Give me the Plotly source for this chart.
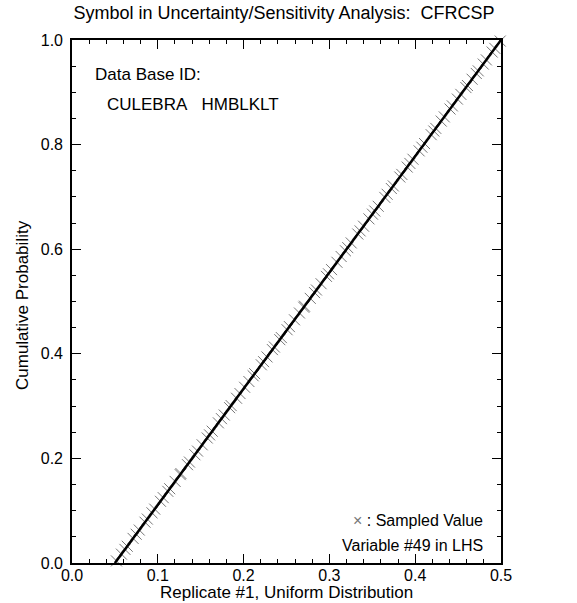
import plotly.graph_objects as go

# Uniform distribution range (CDF line endpoints)
cdf_x = [0.05, 0.5]
cdf_y = [0.0, 1.0]

# Sampled values (LHS, replicate #1) and their cumulative probabilities
sample_x = [0.0518, 0.0576, 0.0617, 0.0644, 0.0712, 0.0748, 0.0784, 0.0851, 0.0878, 0.0932,
            0.0964, 0.1031, 0.1063, 0.1117, 0.1139, 0.1202, 0.1261, 0.1270, 0.1346, 0.1369,
            0.1432, 0.1463, 0.1517, 0.1576, 0.1603, 0.1634, 0.1706, 0.1742, 0.1774, 0.1837,
            0.1855, 0.1918, 0.1958, 0.2012, 0.2062, 0.2111, 0.2129, 0.2206, 0.2233, 0.2273,
            0.2336, 0.2359, 0.2422, 0.2440, 0.2507, 0.2534, 0.2593, 0.2651, 0.2701, 0.2710,
            0.2777, 0.2827, 0.2849, 0.2903, 0.2966, 0.2989, 0.3025, 0.3088, 0.3137, 0.3187,
            0.3214, 0.3254, 0.3331, 0.3358, 0.3398, 0.3461, 0.3502, 0.3529, 0.3569, 0.3646,
            0.3673, 0.3722, 0.3745, 0.3821, 0.3844, 0.3907, 0.3938, 0.3974, 0.4046, 0.4078,
            0.4109, 0.4186, 0.4217, 0.4240, 0.4303, 0.4339, 0.4406, 0.4433, 0.4492, 0.4532,
            0.4591, 0.4609, 0.4663, 0.4712, 0.4735, 0.4793, 0.4829, 0.4897, 0.4928, 0.4991]
sample_p = [0.004, 0.017, 0.026, 0.032, 0.047, 0.055, 0.063, 0.078, 0.084, 0.096,
            0.103, 0.118, 0.125, 0.137, 0.142, 0.156, 0.169, 0.171, 0.188, 0.193,
            0.207, 0.214, 0.226, 0.239, 0.245, 0.252, 0.268, 0.276, 0.283, 0.297,
            0.301, 0.315, 0.324, 0.336, 0.347, 0.358, 0.362, 0.379, 0.385, 0.394,
            0.408, 0.413, 0.427, 0.431, 0.446, 0.452, 0.465, 0.478, 0.489, 0.491,
            0.506, 0.517, 0.522, 0.534, 0.548, 0.553, 0.561, 0.575, 0.586, 0.597,
            0.603, 0.612, 0.629, 0.635, 0.644, 0.658, 0.667, 0.673, 0.682, 0.699,
            0.705, 0.716, 0.721, 0.738, 0.743, 0.757, 0.764, 0.772, 0.788, 0.795,
            0.802, 0.819, 0.826, 0.831, 0.845, 0.853, 0.868, 0.874, 0.887, 0.896,
            0.909, 0.913, 0.925, 0.936, 0.941, 0.954, 0.962, 0.977, 0.984, 0.998]

x_ticks = [0.0, 0.1, 0.2, 0.3, 0.4, 0.5]
x_tick_labels = ["0.0", "0.1", "0.2", "0.3", "0.4", "0.5"]
y_ticks = [0.0, 0.2, 0.4, 0.6, 0.8, 1.0]
y_tick_labels = ["0.0", "0.2", "0.4", "0.6", "0.8", "1.0"]

FONT = "Liberation Sans, Arial, Helvetica, sans-serif"
FS = 17
W, H = 577, 603
L, R, T, B = 72, 76, 40, 40
PW, PH = W - L - R, H - T - B

fig = go.Figure()
fig.add_trace(go.Scatter(
    x=sample_x, y=sample_p, mode="markers",
    marker=dict(symbol="x-thin", size=11, line=dict(width=0.9, color="#666666"), color="#666666"),
    showlegend=False, hoverinfo="skip", cliponaxis=False))
fig.add_trace(go.Scatter(
    x=cdf_x, y=cdf_y, mode="lines",
    line=dict(color="black", width=2.5), showlegend=False, hoverinfo="skip"))

axis_common = dict(
    showgrid=False, zeroline=False, showline=True, linecolor="black", linewidth=1.6,
    mirror="allticks", ticks="inside", ticklen=9, tickwidth=1.4, tickcolor="black",
    tickfont=dict(family=FONT, size=16, color="black"), automargin=False,
)

fig.update_xaxes(
    range=[0, 0.5], tickvals=x_ticks, ticktext=x_tick_labels, ticklabelstandoff=-3,
    minor=dict(dtick=0.02, tick0=0, ticks="inside", ticklen=4, tickwidth=1, tickcolor="black"),
    **axis_common)
fig.update_yaxes(
    range=[0, 1], tickvals=y_ticks, ticktext=y_tick_labels, ticklabelstandoff=4,
    minor=dict(dtick=0.05, tick0=0, ticks="inside", ticklen=4, tickwidth=1, tickcolor="black"),
    **axis_common)

fig.update_layout(
    width=W, height=H,
    margin=dict(l=L, r=R, t=T, b=B),
    paper_bgcolor="white", plot_bgcolor="white",
    font=dict(family=FONT, size=FS, color="black"),
    title=dict(text="Symbol in Uncertainty/Sensitivity Analysis:\u00a0 CFRCSP",
               x=284 / W, xanchor="center", y=1 - 13 / H, yanchor="middle",
               font=dict(family=FONT, size=18, color="black")),
)

def px(xp):
    return (xp - L) / PW

def py(yp):
    return 1 - (yp - T) / PH

ann_font = dict(family=FONT, size=FS, color="black")
fig.add_annotation(text="Replicate #1, Uniform Distribution", xref="paper", yref="paper",
                   x=px(286), y=py(592), xanchor="center", yanchor="middle",
                   showarrow=False, font=ann_font)
fig.add_annotation(text="Cumulative Probability", xref="paper", yref="paper", textangle=-90,
                   x=px(22), y=py(305), xanchor="center", yanchor="middle",
                   showarrow=False, font=ann_font)
fig.add_annotation(text="Data Base ID:", xref="paper", yref="paper",
                   x=px(93), y=py(75), xanchor="left", yanchor="middle",
                   showarrow=False, font=ann_font)
fig.add_annotation(text="CULEBRA\u00a0\u00a0 HMBLKLT", xref="paper", yref="paper",
                   x=px(105), y=py(104), xanchor="left", yanchor="middle",
                   showarrow=False, font=ann_font)
fig.add_annotation(text="<span style='color:#777777'>\u00d7</span> : Sampled Value", xref="paper", yref="paper",
                   x=px(485), y=py(520), xanchor="right", yanchor="middle",
                   showarrow=False, font=dict(family=FONT, size=16, color="black"))
fig.add_annotation(text="Variable #49 in LHS", xref="paper", yref="paper",
                   x=px(485), y=py(545), xanchor="right", yanchor="middle",
                   showarrow=False, font=dict(family=FONT, size=16, color="black"))

fig.write_html("out.html", post_script="document.body.style.margin='0';",
               config={"displayModeBar": False})
